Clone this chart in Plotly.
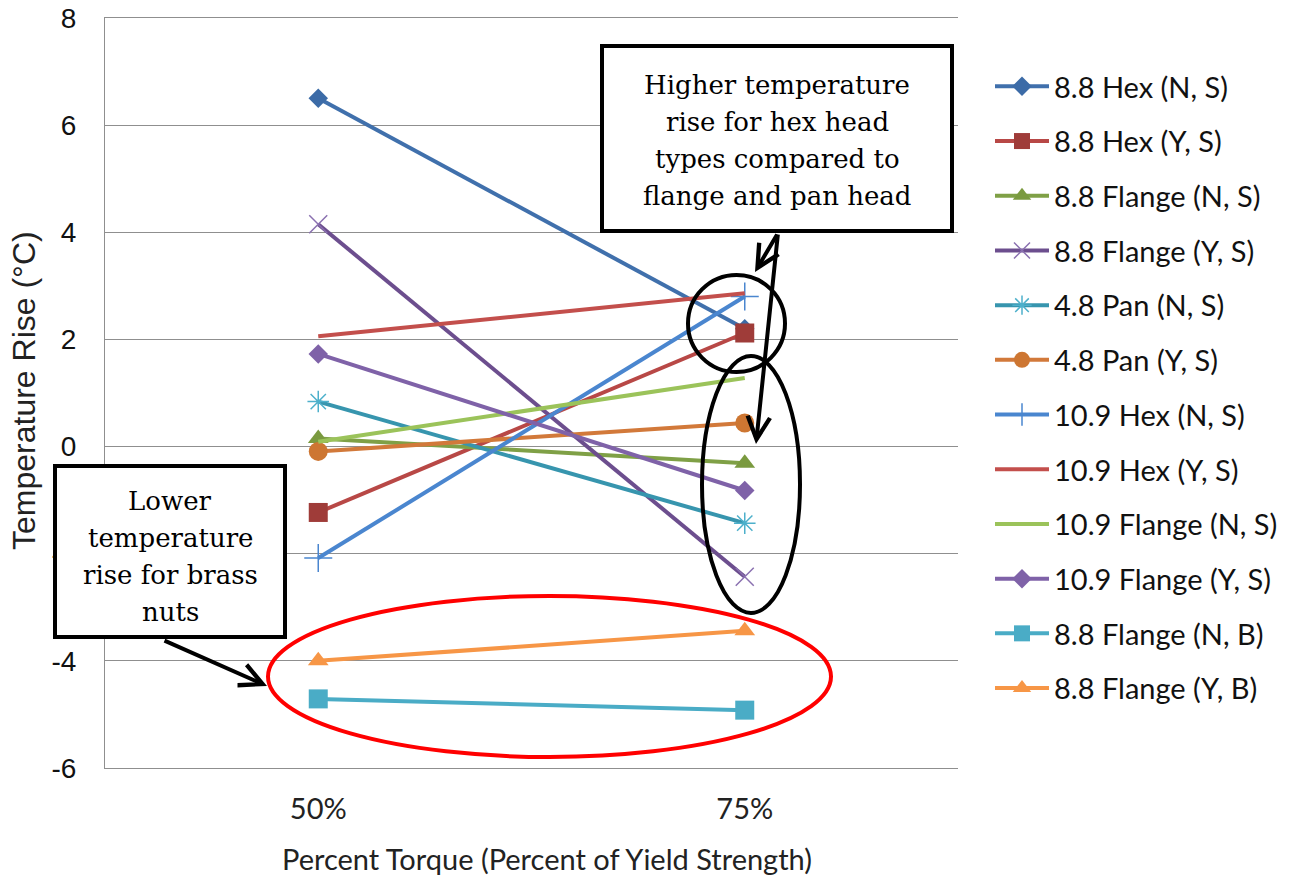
import plotly.graph_objects as go

# Torque levels on the category axis
torque_levels = ["50%", "75%"]

# Temperature rise (°C) per fastener configuration at 50% / 75% torque
hex88_ns = [6.5, 2.2]
hex88_ys = [-1.23, 2.12]
flange88_ns = [0.15, -0.31]
flange88_ys = [4.15, -2.43]
pan48_ns = [0.84, -1.43]
pan48_ys = [-0.09, 0.44]
hex109_ns = [-2.08, 2.8]
hex109_ys = [2.06, 2.86]
flange109_ns = [0.09, 1.28]
flange109_ys = [1.73, -0.82]
flange88_nb = [-4.71, -4.92]
flange88_yb = [-4.0, -3.44]

series_names = [
    "8.8 Hex (N, S)", "8.8 Hex (Y, S)", "8.8 Flange (N, S)", "8.8 Flange (Y, S)",
    "4.8 Pan (N, S)", "4.8 Pan (Y, S)", "10.9 Hex (N, S)", "10.9 Hex (Y, S)",
    "10.9 Flange (N, S)", "10.9 Flange (Y, S)", "8.8 Flange (N, B)", "8.8 Flange (Y, B)",
]
series_values = [
    hex88_ns, hex88_ys, flange88_ns, flange88_ys, pan48_ns, pan48_ys,
    hex109_ns, hex109_ys, flange109_ns, flange109_ys, flange88_nb, flange88_yb,
]

# Y-axis ticks (plain hyphen for negatives)
y_tickvals = [-6, -4, -2, 0, 2, 4, 6, 8]
y_ticktext = ["-6", "-4", "-2", "0", "2", "4", "6", "8"]

# (line colour, marker symbol, marker size, marker fill, marker outline width)
styles = [
    ("#4070AC", "diamond", 15, "#3C6BA7", 0),
    ("#B84846", "square", 19, "#9F3C39", 0),
    ("#7FA046", "triangle-up", 18, "#7A9A3F", 0),
    ("#6C4E8E", "x-thin", 18, "#8A70B0", 1.5),
    ("#3795AE", "asterisk", 18, "#4DB0CB", 1.5),
    ("#D2793A", "circle", 19, "#CD7632", 0),
    ("#4A86CF", "cross-thin", 20, "#4A86CF", 1.5),
    ("#C34F4C", None, 0, None, 0),
    ("#9BC35A", None, 0, None, 0),
    ("#7F62A8", "diamond", 15, "#7F62A8", 0),
    ("#4AACC6", "square", 19, "#4AACC6", 0),
    ("#F79646", "triangle-up", 18, "#F79646", 0),
]

W, H = 1298, 877
L, R, T, B = 105, 958, 18, 768


def px(x):
    return (x - L) / (R - L)


def py(y):
    return (B - y) / (B - T)


fig = go.Figure()
for i, (name, vals, st) in enumerate(zip(series_names, series_values, styles)):
    color, sym, size, mfill, mlw = st
    kw = dict(x=torque_levels, y=vals, name=name, legendgroup=f"g{i}",
              line=dict(color=color, width=4))
    if sym is None:
        kw["mode"] = "lines"
    else:
        kw["mode"] = "lines+markers"
        if mlw:
            kw["marker"] = dict(symbol=sym, size=size, color=mfill,
                                line=dict(color=mfill, width=mlw))
        else:
            kw["marker"] = dict(symbol=sym, size=size, color=mfill,
                                line=dict(width=0))
    fig.add_trace(go.Scatter(**kw))

grid = "#8F8F8F"
shapes = []
annotations = []

# Callout ellipses
shapes.append(dict(type="circle", xref="paper", yref="paper",
                   x0=px(688), x1=px(785), y0=py(372), y1=py(275),
                   line=dict(color="black", width=4), layer="above"))
shapes.append(dict(type="circle", xref="paper", yref="paper",
                   x0=px(702), x1=px(800), y0=py(613), y1=py(356),
                   line=dict(color="black", width=4), layer="above"))
shapes.append(dict(type="circle", xref="paper", yref="paper",
                   x0=px(268), x1=px(831), y0=py(757), y1=py(596),
                   line=dict(color="#FF0000", width=4), layer="above"))

# Text boxes
shapes.append(dict(type="rect", xref="paper", yref="paper",
                   x0=px(602), x1=px(952), y0=py(231), y1=py(46),
                   line=dict(color="black", width=4), fillcolor="white",
                   layer="above"))
shapes.append(dict(type="rect", xref="paper", yref="paper",
                   x0=px(55), x1=px(285), y0=py(637), y1=py(466),
                   line=dict(color="black", width=4), fillcolor="white",
                   layer="above"))

serif = dict(family="DejaVu Serif", size=26, color="black")


def text_block(lines, cx, y_first, step):
    for k, line in enumerate(lines):
        annotations.append(dict(xref="paper", yref="paper", x=px(cx),
                                y=py(y_first + k * step), text=line,
                                showarrow=False, font=serif,
                                xanchor="center", yanchor="middle"))


text_block(["Higher temperature", "rise for hex head",
            "types compared to", "flange and pan head"], 777, 85, 37)
text_block(["Lower", "temperature", "rise for brass", "nuts"], 170, 501, 37)


def arrow(x_tail, y_tail, x_head, y_head):
    return dict(xref="paper", yref="paper", x=px(x_head), y=py(y_head),
                ax=x_tail - x_head, ay=y_tail - y_head, text="",
                showarrow=True, arrowhead=5, arrowsize=1.1, arrowwidth=4,
                arrowcolor="black", standoff=0, startstandoff=0)


annotations.append(arrow(778, 233, 755, 272))
annotations.append(arrow(778, 233, 756, 444))
annotations.append(arrow(163, 640, 267, 686))

# Axis titles
annotations.append(dict(xref="paper", yref="paper", x=px(547), y=py(858),
                        text="Percent Torque (Percent of Yield Strength)",
                        showarrow=False, xanchor="center", yanchor="middle",
                        font=dict(family="Lato", size=29, color="#222222")))
annotations.append(dict(xref="paper", yref="paper", x=px(24), y=py(391),
                        text="Temperature Rise (°C)", textangle=-90,
                        showarrow=False, xanchor="center", yanchor="middle",
                        font=dict(family="Liberation Sans", size=32, color="#222222")))

fig.update_layout(
    width=W, height=H,
    margin=dict(l=L, r=W - R, t=T, b=H - B, pad=0, autoexpand=False),
    plot_bgcolor="white", paper_bgcolor="white",
    showlegend=True,
    legend=dict(x=px(990), y=py(61), xanchor="left", yanchor="top",
                font=dict(family="Lato", size=29, color="#111111"),
                tracegroupgap=14, itemwidth=54, bgcolor="rgba(0,0,0,0)"),
    shapes=shapes,
    annotations=annotations,
)
fig.update_xaxes(type="category", range=[-0.5, 1.5], showgrid=False,
                 showline=True, mirror=True, linecolor=grid, linewidth=1,
                 ticks="", tickfont=dict(family="Lato", size=29, color="#222222"),
                 ticklabelstandoff=15, zeroline=False, automargin=False)
fig.update_yaxes(range=[-6, 8], tickvals=y_tickvals, ticktext=y_ticktext,
                 showgrid=True, gridcolor=grid,
                 gridwidth=1, showline=True, linecolor=grid, linewidth=1,
                 ticks="", zeroline=False, automargin=False,
                 tickfont=dict(family="Liberation Sans", size=28, color="#111111"),
                 ticklabelstandoff=22)

fig.write_html("out.html")
